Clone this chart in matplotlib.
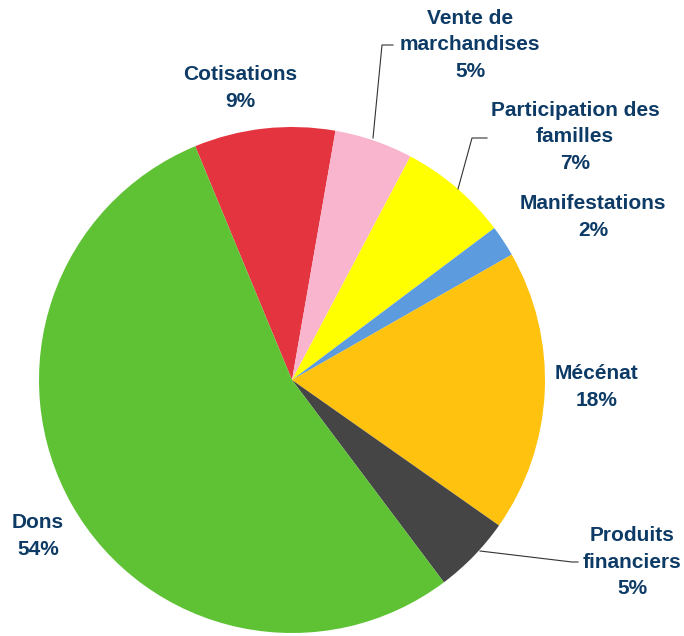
import matplotlib
matplotlib.use('Agg')
import matplotlib.pyplot as plt

# part of each source of income, clockwise from Cotisations
labels = ['Cotisations', 'Vente de\nmarchandises', 'Participation des\nfamilles',
          'Manifestations', 'Mécénat', 'Produits\nfinanciers', 'Dons']
values = [9, 5, 7, 2, 18, 5, 54]
colors = ['#E3343F', '#F8B5CD', '#FFFF00', '#5B9BDE', '#FFC20E', '#454545', '#5FC235']

# label anchor (pixel coords, y from top)
label_pos = [(240, 88), (470, 45), (575, 137), (593, 217), (597, 387), (632, 562), (38, 536)]

txtcol = '#0D3B66'
H = 636

fig = plt.figure(figsize=(6.84, 6.36), dpi=100)
ax = fig.add_axes([0, 0, 1, 1])

ax.pie(values, colors=colors, startangle=112.5, counterclock=False,
       center=(292, H - 380), radius=253, wedgeprops=dict(linewidth=0))

ax.set_xlim(0, 684)
ax.set_ylim(0, H)
ax.set_aspect('equal')
ax.axis('off')

for lab, v, (x, y) in zip(labels, values, label_pos):
    ax.text(x, H - y, '%s\n%d%%' % (lab, v), ha='center', va='center',
            fontsize=15, fontweight='bold', color=txtcol,
            family=['Liberation Sans', 'DejaVu Sans'], linespacing=1.5)

# leader lines
ax.plot([373, 382, 393], [H - 138, H - 45, H - 45], color='#333333', lw=0.8)
ax.plot([458, 472, 487], [H - 189, H - 138, H - 138], color='#333333', lw=0.8)
ax.plot([480, 572, 578], [H - 551, H - 562, H - 562], color='#333333', lw=0.8)

fig.savefig('out.png', dpi=100)
